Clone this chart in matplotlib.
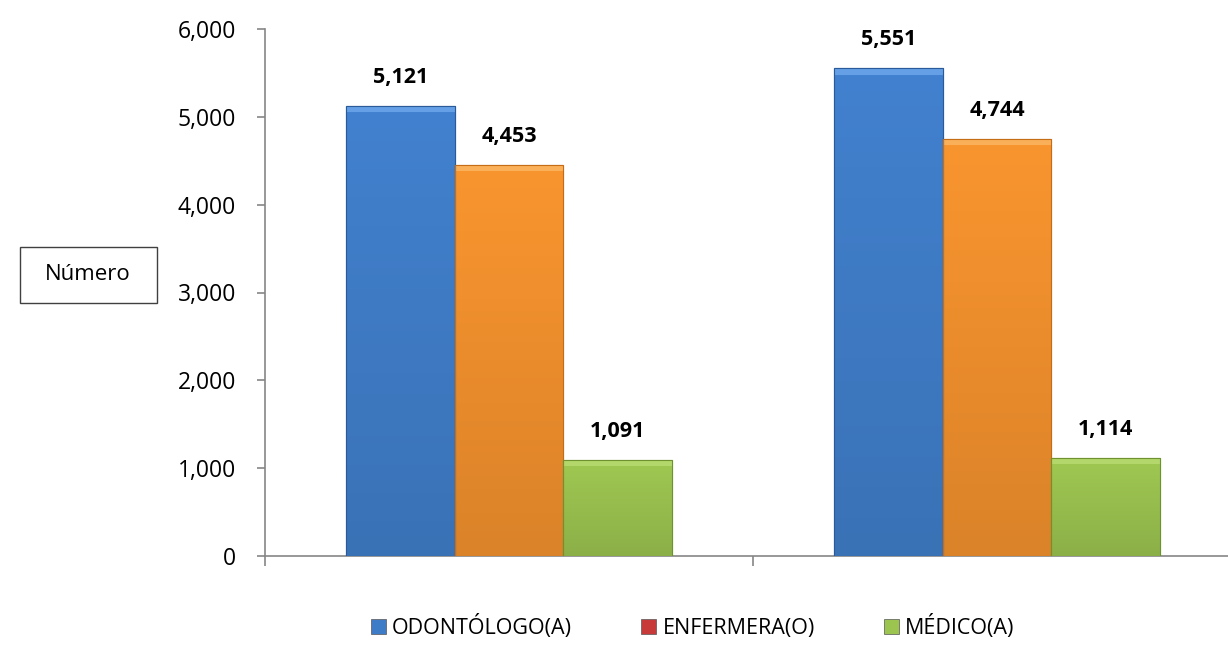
import numpy as np
import matplotlib
matplotlib.use("Agg")
import matplotlib.pyplot as plt
from matplotlib.patches import Rectangle
from matplotlib.ticker import FuncFormatter

# datos
grupos = ["", ""]
series = ["ODONTÓLOGO(A)", "ENFERMERA(O)", "MÉDICO(A)"]
odontologo = [5121, 5551]
enfermera = [4453, 4744]
medico = [1091, 1114]
yticks = [0, 1000, 2000, 3000, 4000, 5000, 6000]

# colores (cuerpo, brillo superior, borde)
colores = [
    ("#4281cf", "#6fa9ec", "#2a5a99"),
    ("#f9952f", "#fbb864", "#c46d16"),
    ("#9fc852", "#b9dc72", "#6f9230"),
]
color_leyenda = ["#3f7cc8", "#c83a3a", "#9cc54f"]

plt.rcParams["font.family"] = ["Open Sans", "DejaVu Sans"]

fig = plt.figure(figsize=(12.28, 6.47), dpi=100)
ax = fig.add_axes([265 / 1228, 91 / 647, 976 / 1228, 527 / 647])

x = np.arange(len(grupos)) + 0.5
ancho = 0.223
valores = [odontologo, enfermera, medico]

for i, (vals, (c, brillo, borde)) in enumerate(zip(valores, colores)):
    pos = x + (i - 1) * ancho
    barras = ax.bar(pos, vals, width=ancho, color=c, edgecolor=borde,
                    linewidth=0.8, zorder=3)
    oscuro = matplotlib.colors.to_hex(
        np.array(matplotlib.colors.to_rgb(c)) * 0.88)
    cmap = matplotlib.colors.LinearSegmentedColormap.from_list("g", [c, oscuro])
    for b, v in zip(barras, vals):
        x0 = b.get_x()
        # degradado vertical: claro arriba, oscuro abajo
        grad = np.linspace(0, 1, 64).reshape(-1, 1)
        im = ax.imshow(grad, cmap=cmap, aspect="auto",
                       extent=(x0, x0 + ancho, 0, v), zorder=3.1)
        im.set_clip_path(b)
        # bisel superior
        ax.add_patch(Rectangle((x0, v - 70), ancho, 70, facecolor=brillo,
                               edgecolor="none", alpha=0.8, zorder=3.2))
        ax.add_patch(Rectangle((x0, 0), ancho, v, facecolor="none",
                               edgecolor=borde, linewidth=0.8, zorder=3.3))
        ax.annotate(f"{v:,}", (x0 + ancho / 2, v), xytext=(0, 13),
                    textcoords="offset points", ha="center", va="bottom",
                    fontsize=15.5, fontweight="bold", color="black")

ax.set_xlim(0, 2)
ax.set_ylim(0, 6000)
ax.set_yticks(yticks)
ax.yaxis.set_major_formatter(FuncFormatter(lambda v, p: f"{int(v):,}"))
ax.set_xticks([0, 1, 2])
ax.set_xticklabels([])

for s in ["top", "right"]:
    ax.spines[s].set_visible(False)
for s in ["left", "bottom"]:
    ax.spines[s].set_color("#868686")
    ax.spines[s].set_linewidth(1.2)
ax.tick_params(axis="y", length=6, width=1.2, color="#868686",
               labelsize=16.5, pad=15)
ax.tick_params(axis="x", length=7, width=1.2, color="#868686")

# caja "Número"
fig.patches.append(Rectangle((20 / 1228, 344 / 647), 137 / 1228, 56 / 647,
                             transform=fig.transFigure, facecolor="white",
                             edgecolor="#404040", linewidth=1))
fig.text(88 / 1228, 372 / 647, "Número", ha="center", va="center",
         fontsize=16)

handles = [Rectangle((0, 0), 1, 1, facecolor=c, edgecolor="#555555",
                     linewidth=0.5) for c in color_leyenda]
fig.legend(handles, series, loc="center", bbox_to_anchor=(0.564, 20 / 647),
           ncol=3, frameon=False, fontsize=15.5, handlelength=0.7,
           handleheight=0.7, handletextpad=0.3, columnspacing=3.2)

fig.savefig("out.png", dpi=100)
